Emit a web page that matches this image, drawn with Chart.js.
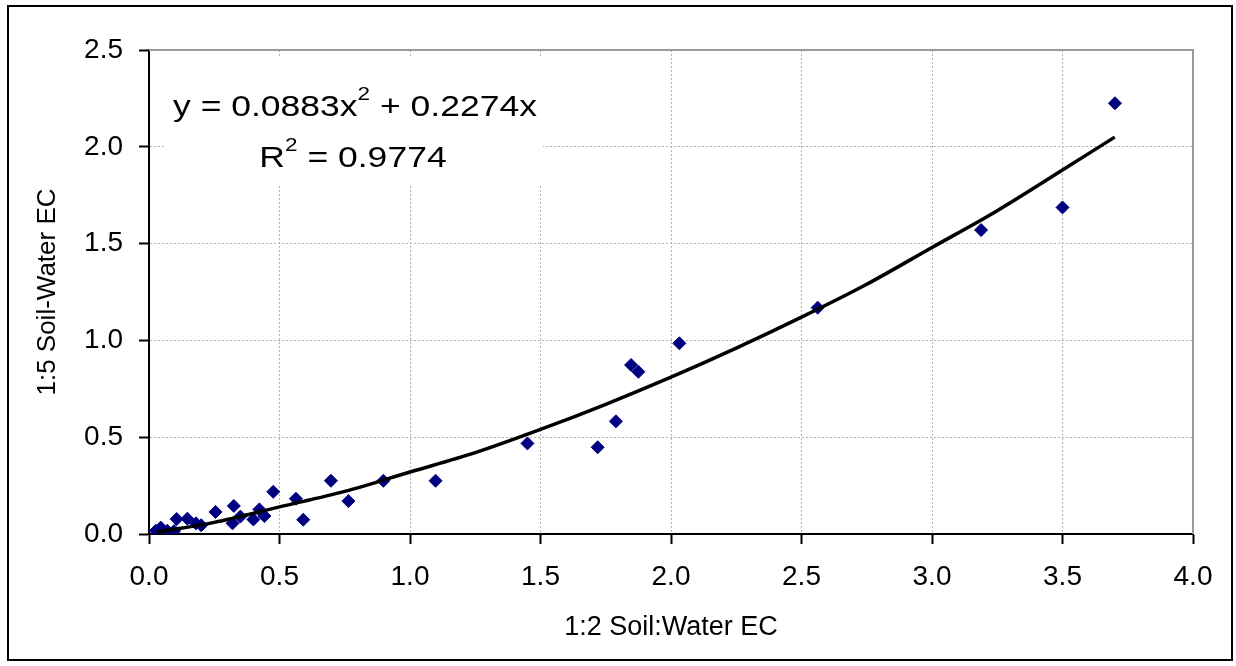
<!DOCTYPE html>
<html>
<head>
<meta charset="utf-8">
<script src="https://cdn.jsdelivr.net/npm/chart.js@4/dist/chart.umd.min.js"></script>
<style>
html,body{margin:0;padding:0;background:#fff;}
canvas{display:block;}
</style>
</head>
<body>
<canvas id="c" width="1236" height="666"></canvas>
<script>
const ecX = [0.026,0.045,0.07,0.096,0.106,0.147,0.18,0.2,0.255,0.32,0.325,0.35,0.4,0.423,0.442,0.476,0.563,0.591,0.697,0.764,0.898,1.098,1.45,1.719,1.789,1.847,1.875,2.032,2.562,3.188,3.5,3.701];
const ecY = [0.017,0.033,0.017,0.015,0.077,0.079,0.055,0.045,0.114,0.055,0.145,0.09,0.075,0.127,0.093,0.218,0.182,0.074,0.275,0.17,0.275,0.275,0.468,0.448,0.582,0.873,0.838,0.985,1.169,1.570,1.687,2.225];
// Trend line as drawn in the picture
const trendX = [0.03,0.25,0.5,0.75,1.0,1.25,1.5,1.75,2.0,2.25,2.5,2.75,3.0,3.25,3.5,3.7];
const trendY = [0.01,0.06,0.14,0.22,0.32,0.42,0.54,0.67,0.81,0.96,1.12,1.29,1.48,1.67,1.88,2.05];
const xTicks = [0.0,0.5,1.0,1.5,2.0,2.5,3.0,3.5,4.0];
const yTicks = [0.0,0.5,1.0,1.5,2.0,2.5];
const eqLine1 = ['y = 0.0883x', '2', ' + 0.2274x'];
const eqLine2 = ['R', '2', ' = 0.9774'];
const xTitle = '1:2 Soil:Water EC';
const yTitle = '1:5 Soil-Water EC';

const FONT = "'Liberation Sans', Arial, sans-serif";

function richWidth(ctx, parts, size) {
  const supSize = Math.round(size * 0.64);
  let w = 0;
  parts.forEach((p, i) => { ctx.font = (i === 1 ? supSize : size) + 'px ' + FONT; w += ctx.measureText(p).width; });
  return w;
}
function drawRich(ctx, parts, cx, baseline, size, sx) {
  const supSize = Math.round(size * 0.64);
  const w = richWidth(ctx, parts, size);
  ctx.save();
  ctx.translate(cx - w * sx / 2, baseline);
  ctx.scale(sx, 1);
  ctx.fillStyle = '#000';
  ctx.textBaseline = 'alphabetic';
  ctx.textAlign = 'left';
  let x = 0;
  parts.forEach((p, i) => {
    ctx.font = (i === 1 ? supSize : size) + 'px ' + FONT;
    ctx.fillText(p, x, i === 1 ? -size * 0.55 : 0);
    x += ctx.measureText(p).width;
  });
  ctx.restore();
}

const decor = {
  id: 'decor',
  beforeDraw(chart) {
    const ctx = chart.ctx;
    ctx.save();
    ctx.fillStyle = '#fff';
    ctx.fillRect(0, 0, chart.width, chart.height);
    ctx.restore();
  },
  beforeDatasetsDraw(chart) {
    const ctx = chart.ctx;
    const a = chart.chartArea;
    ctx.save();
    ctx.strokeStyle = '#9a9a9a';
    ctx.lineWidth = 2;
    ctx.beginPath();
    ctx.moveTo(a.left, a.top);
    ctx.lineTo(a.right, a.top);
    ctx.lineTo(a.right, a.bottom);
    ctx.stroke();
    // equation label box
    ctx.fillStyle = '#fff';
    ctx.fillRect(165, 58, 378, 127);
    ctx.restore();
    const size = 30;
    const sx = 364 / richWidth(ctx, eqLine1, size);
    drawRich(ctx, eqLine1, 355, 116, size, sx);
    drawRich(ctx, eqLine2, 353, 167, size, sx);
  },
  afterDraw(chart) {
    const ctx = chart.ctx;
    ctx.save();
    ctx.strokeStyle = '#000';
    ctx.lineWidth = 2;
    ctx.strokeRect(8, 6, 1224, 654);
    ctx.restore();
  }
};

const gridOpts = { color: '#b4b4b4', tickColor: '#000', tickLength: 10, tickBorderDash: [], tickWidth: 2, lineWidth: 1 };
const borderOpts = { color: '#000', width: 2, dash: [2, 2] };

new Chart(document.getElementById('c'), {
  type: 'scatter',
  data: {
    datasets: [
      {
        type: 'line',
        label: 'trend',
        data: trendX.map((x, i) => ({x, y: trendY[i]})),
        borderColor: '#000',
        borderWidth: 3.5,
        pointRadius: 0,
        fill: false,
        cubicInterpolationMode: 'monotone',
        order: 0
      },
      {
        label: 'EC',
        data: ecX.map((x, i) => ({x, y: ecY[i]})),
        pointStyle: 'rectRot',
        pointRadius: 6.5,
        pointHoverRadius: 6.5,
        backgroundColor: '#000080',
        borderColor: '#000080',
        borderWidth: 1,
        order: 1
      }
    ]
  },
  options: {
    responsive: false,
    animation: false,
    devicePixelRatio: 1,
    layout: { padding: { left: 0, right: 43, top: 50, bottom: 0 } },
    plugins: { legend: { display: false }, tooltip: { enabled: false } },
    scales: {
      x: {
        type: 'linear',
        min: 0, max: 4,
        afterBuildTicks(s) { s.ticks = xTicks.map(v => ({value: v})); },
        afterFit(s) { s.height = 132; },
        ticks: { color: '#000', padding: 16, font: { family: FONT, size: 28 }, callback: v => Number(v).toFixed(1) },
        grid: gridOpts,
        border: borderOpts,
        title: { display: true, text: xTitle, color: '#000', font: { family: FONT, size: 27 }, padding: { top: 0, bottom: 22 } }
      },
      y: {
        type: 'linear',
        min: 0, max: 2.5,
        afterBuildTicks(s) { s.ticks = yTicks.map(v => ({value: v})); },
        afterFit(s) { s.width = 149; },
        ticks: { color: '#000', padding: 16, font: { family: FONT, size: 28 }, callback: v => Number(v).toFixed(1) },
        grid: gridOpts,
        border: borderOpts,
        title: { display: true, text: yTitle, color: '#000', font: { family: FONT, size: 26 }, padding: { top: 32, bottom: 0 } }
      }
    }
  },
  plugins: [decor]
});
</script>
</body>
</html>
